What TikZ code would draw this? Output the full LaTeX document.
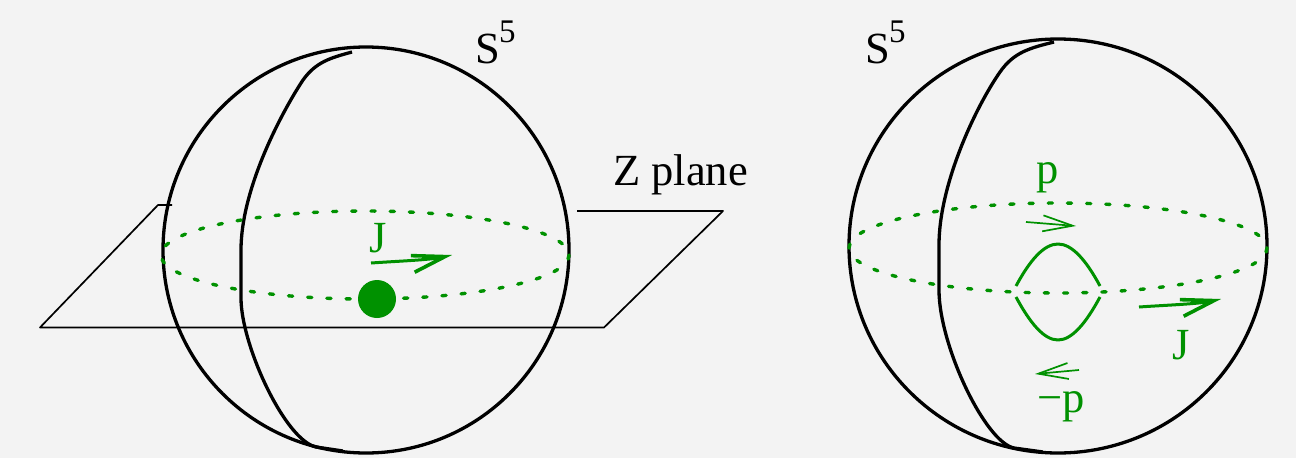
\documentclass[tikz,border=0pt]{standalone}
\usepackage{fontspec}
\usepackage{xcolor}
\setmainfont{Liberation Serif}
\usetikzlibrary{arrows.meta}
\definecolor{jgreen}{RGB}{0,145,0}
\definecolor{paper}{RGB}{243,243,243}
\newcommand{\sfive}{S\kern-1pt\raisebox{21pt}{\fontsize{33}{33}\selectfont 5}}

\begin{document}
\begin{tikzpicture}[
  x=1pt, y=-1pt,
  line join=round,
  txt/.style={inner sep=0pt, anchor=base, font=\fontsize{44.5}{50}\selectfont},
  gtxt/.style={txt, text=jgreen},
  sphere/.style={draw=black, line width=3.3pt},
  meridian/.style={draw=black, line width=3.3pt},
  plane/.style={draw=black, line width=1.7pt},
  orbit/.style={draw=jgreen, line width=3.4pt, line cap=round, dash pattern=on 4.2pt off 15pt},
  loopline/.style={draw=jgreen, line width=3pt},
  jarr/.style={draw=jgreen, line width=3pt, -{Straight Barb[length=33pt, width=17pt, line width=3.6pt]}},
  parr/.style={draw=jgreen, line width=1.7pt, -{Straight Barb[length=30pt, width=16pt, line width=1.7pt]}}]

\fill[paper] (0,0) rectangle (1296,458);
\useasboundingbox (0,0) rectangle (1296,458);

% left sphere
\coordinate (pa) at (172,205);
\coordinate (pb) at (158,205);
\coordinate (pc) at (40,327.5);
\coordinate (pd) at (604,327.5);
\coordinate (pe) at (723,211);
\coordinate (pf) at (577,211);
\draw[plane] (pa) -- (pb) -- (pc) -- (pd) -- (pe) -- (pf);

\draw[sphere] (366,250) ellipse [x radius=203, y radius=203];
\draw[meridian] (352,52) .. controls (330,58) and (316,62) .. (303,80)
  .. controls (280,115) and (241,190) .. (241,250) -- (241,298)
  .. controls (241,345) and (285,440) .. (316,447) -- (343,451);
\draw[orbit] (365,255) ellipse [x radius=204, y radius=44];
\node[circle, fill=jgreen, minimum size=38pt, inner sep=0pt] (ball) at (377,299) {};

\coordinate (jatail) at (371,263);
\coordinate (jatip) at (452,255);
\draw[jarr] (jatail) .. controls (400,261) and (430,260) .. (jatip);

\node[gtxt] (jleft) at (378,252) {J};
\node[txt] (sleft) at (495.5,63) {\sfive};
\node[txt, anchor=base west] (zplane) at (613,185) {Z plane};

% right sphere
\draw[sphere] (1058,246) ellipse [x radius=209, y radius=207];
\draw[meridian] (1054,42) .. controls (1030,48) and (1014,52) .. (1000,72)
  .. controls (975,108) and (939,185) .. (939,245) -- (939,290)
  .. controls (939,345) and (985,442) .. (1014,448) -- (1043,452);
\draw[orbit] (1058,248) ellipse [x radius=209, y radius=45];

\coordinate (la) at (1016,286);
\coordinate (lb) at (1058,244);
\coordinate (lc) at (1100,286);
\coordinate (ld) at (1016,297);
\coordinate (le) at (1058,340);
\coordinate (lf) at (1100,297);
\draw[loopline] (la) .. controls (1030,260) and (1044,244) .. (lb)
  .. controls (1072,244) and (1086,260) .. (lc);
\draw[loopline] (ld) .. controls (1030,323) and (1044,340) .. (le)
  .. controls (1072,340) and (1086,323) .. (lf);

\coordinate (patail) at (1026,222);
\coordinate (patip) at (1076,226);
\coordinate (mtail) at (1079,370);
\coordinate (mtip) at (1035,374);
\draw[parr] (patail) -- (patip);
\draw[parr] (mtail) -- (mtip);

\coordinate (jbtail) at (1139,307);
\coordinate (jbtip) at (1221,299);
\draw[jarr] (jbtail) .. controls (1168,305) and (1199,304) .. (jbtip);

\node[gtxt] (pup) at (1048,183) {p};
\node[gtxt] (pdown) at (1061,412) {−p};
\node[gtxt] (jright) at (1181,359) {J};
\node[txt] (sright) at (885.5,63) {\sfive};

\end{tikzpicture}
\end{document}
